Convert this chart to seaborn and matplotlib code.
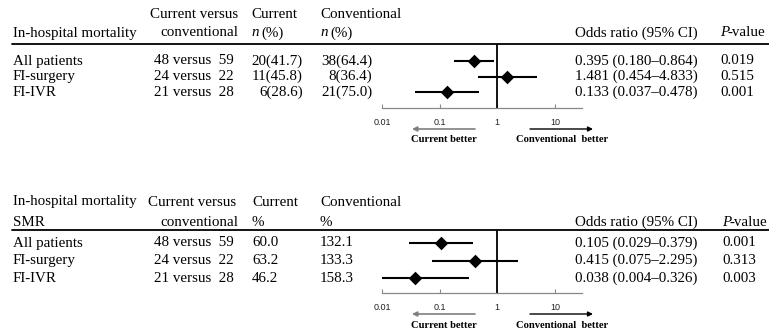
import matplotlib
matplotlib.use('Agg')
import matplotlib.pyplot as plt
import seaborn as sns
import numpy as np
import pandas as pd

# data
subgroups = ['All patients', 'FI-surgery', 'FI-IVR']
n_compare = ['48 versus  59', '24 versus  22', '21 versus  28']

mort_current = ['20(41.7)', '11(45.8)', '6(28.6)']
mort_conv = ['38(64.4)', '8(36.4)', '21(75.0)']
mort_or = [0.395, 1.481, 0.133]
mort_lo = [0.180, 0.454, 0.037]
mort_hi = [0.864, 4.833, 0.478]
mort_p = ['0.019', '0.515', '0.001']

smr_current = ['60.0', '63.2', '46.2']
smr_conv = ['132.1', '133.3', '158.3']
smr_or = [0.105, 0.415, 0.038]
smr_lo = [0.029, 0.075, 0.004]
smr_hi = [0.379, 2.295, 0.326]
smr_p = ['0.001', '0.313', '0.003']

ticks = [0.01, 0.1, 1, 10]
tick_labels = ['0.01', '0.1', '1', '10']

W, H = 769, 333
SERIF = 'Liberation Serif'
FS = 10.8

sns.set_theme(style='white')
plt.rcParams['font.family'] = [SERIF, 'DejaVu Serif']

fig = plt.figure(figsize=(W / 100, H / 100), dpi=100)
bg = fig.add_axes([0, 0, 1, 1])
bg.set_xlim(0, W)
bg.set_ylim(H, 0)
bg.axis('off')


def txt(x, y, s, ha='left', style='normal', size=FS, weight='normal', family=SERIF):
    bg.text(x, y, s, ha=ha, va='center', fontsize=size, fontstyle=style,
            fontweight=weight, family=family, color='black')


def forest(y_top, y_base, rows_y, ors, los, his):
    x0, x1 = 382, 582
    ax = fig.add_axes([x0 / W, 1 - y_base / H, (x1 - x0) / W, (y_base - y_top) / H])
    ax.patch.set_alpha(0)
    df = pd.DataFrame({'row': np.arange(len(ors)), 'or': ors, 'lo': los, 'hi': his})
    sp = rows_y[1] - rows_y[0]
    ax.set_xscale('log')
    ax.set_xlim(0.01, 29.5)
    ax.set_ylim((y_base - rows_y[0]) / sp, -(rows_y[0] - y_top) / sp)
    ax.hlines(df['row'], df['lo'], df['hi'], color='black', lw=1.5, zorder=2)
    sns.scatterplot(data=df, x='or', y='row', marker='D', s=48, color='black',
                    edgecolor='black', linewidth=0, ax=ax, zorder=3, legend=False)
    ax.axvline(1, color='black', lw=1.3, zorder=1)
    for s in ['top', 'left', 'right']:
        ax.spines[s].set_visible(False)
    ax.spines['bottom'].set_color('#888888')
    ax.spines['bottom'].set_linewidth(0.9)
    ax.set_xticks(ticks)
    ax.set_xticklabels(tick_labels)
    ax.minorticks_off()
    ax.tick_params(axis='x', direction='in', length=3, width=0.8, color='#888888',
                   labelsize=6.5, pad=7, bottom=True, labelcolor='#222222')
    for lab in ax.get_xticklabels():
        lab.set_family('Liberation Sans')
    ax.tick_params(axis='y', left=False, labelleft=False)
    ax.set_xlabel('')
    ax.set_ylabel('')
    return ax


def arrows(y_arrow, y_text):
    bg.annotate('', xy=(412, y_arrow), xytext=(475, y_arrow),
                arrowprops=dict(arrowstyle='-|>', color='#7f7f7f', lw=1.2,
                                mutation_scale=7, shrinkA=0, shrinkB=0))
    bg.annotate('', xy=(593, y_arrow), xytext=(530, y_arrow),
                arrowprops=dict(arrowstyle='-|>', color='black', lw=1.0,
                                mutation_scale=7, shrinkA=0, shrinkB=0))
    txt(444, y_text, 'Current better', ha='center', size=7.6, weight='bold')
    txt(562, y_text, 'Conventional  better', ha='center', size=7.6, weight='bold')


# ---- top panel: in-hospital mortality
txt(150, 15, 'Current versus')
txt(251, 15, 'Current')
txt(320, 15, 'Conventional')
txt(13, 33, 'In-hospital mortality')
txt(238, 33, 'conventional', ha='right')
txt(251, 33, 'n', style='italic')
txt(261, 33, '(%)')
txt(320, 33, 'n', style='italic')
txt(330, 33, '(%)')
txt(575, 33, 'Odds ratio (95% CI)')
txt(720, 33, 'P', style='italic')
txt(728, 33, '-value')
bg.plot([12, 769], [44, 44], color='black', lw=1.3)

rows_top = [61, 76.5, 92]
for i, y in enumerate(rows_top):
    txt(13, y, subgroups[i])
    txt(234, y, n_compare[i], ha='right')
    txt(303, y, mort_current[i], ha='right')
    txt(372, y, mort_conv[i], ha='right')
    txt(575, y, f'{mort_or[i]:.3f} ({mort_lo[i]:.3f}\u2013{mort_hi[i]:.3f})')
    txt(720, y, mort_p[i])

forest(44, 108, rows_top, mort_or, mort_lo, mort_hi)
arrows(129, 140)

# ---- bottom panel: SMR
txt(13, 202, 'In-hospital mortality')
txt(148, 202, 'Current versus')
txt(252, 202, 'Current')
txt(320, 202, 'Conventional')
txt(13, 222, 'SMR')
txt(238, 222, 'conventional', ha='right')
txt(252, 222, '%')
txt(320, 222, '%')
txt(575, 222, 'Odds ratio (95% CI)')
txt(722, 222, 'P', style='italic')
txt(730, 222, '-value')
bg.plot([12, 769], [230, 230], color='black', lw=1.3)

rows_bot = [243, 260.5, 278]
for i, y in enumerate(rows_bot):
    txt(13, y, subgroups[i])
    txt(234, y, n_compare[i], ha='right')
    txt(252, y, smr_current[i])
    txt(320, y, smr_conv[i])
    txt(575, y, f'{smr_or[i]:.3f} ({smr_lo[i]:.3f}\u2013{smr_hi[i]:.3f})')
    txt(722, y, smr_p[i])

forest(230, 293, rows_bot, smr_or, smr_lo, smr_hi)
arrows(314, 325)

plt.savefig('out.png', dpi=100)
plt.close()
